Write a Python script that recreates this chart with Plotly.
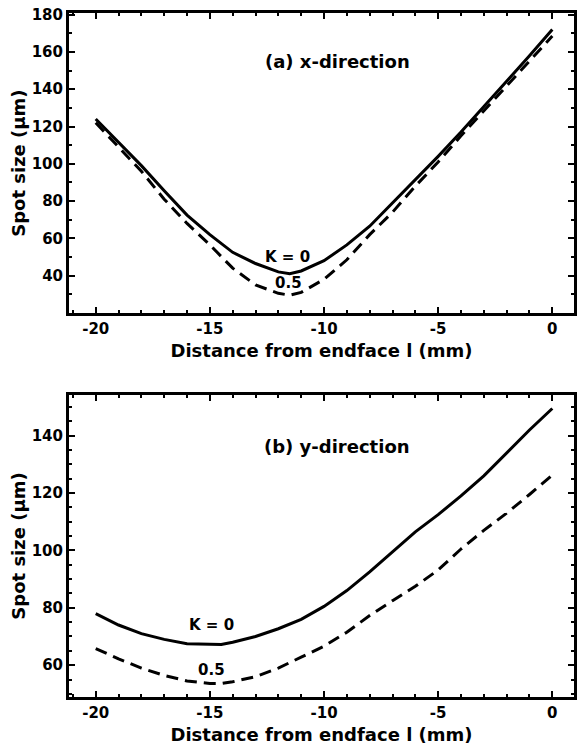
import plotly.graph_objects as go

# ---- data ----
dist = [-20, -19, -18, -17, -16, -15, -14, -13, -12, -11.5, -11, -10, -9, -8, -7, -6, -5, -4, -3, -2, -1, 0]
x_k0 = [124, 111.5, 99, 85.5, 72.5, 62, 52.5, 46.5, 42, 41, 42.5, 48, 56.5, 66.5, 79, 91, 104, 117, 130.5, 144, 158, 172]
x_k05 = [122, 109, 96, 81, 68, 56.5, 44, 35, 30.5, 29.5, 31, 38, 48.5, 62, 74, 88, 101, 115, 128.5, 142, 155.5, 168.5]

dist_b = [-20, -19, -18, -17, -16, -15, -14.5, -14, -13, -12, -11, -10, -9, -8, -7, -6, -5, -4, -3, -2, -1, 0]
y_k0 = [78, 74, 71, 69, 67.5, 67.2, 67.2, 68, 70, 72.7, 76, 80.5, 86, 92.5, 99.5, 106.5, 112.5, 119, 126, 134, 142, 149.5]
y_k05 = [65.8, 62.2, 59, 56.4, 54.5, 53.6, 53.6, 54.2, 56, 59, 62.8, 66.6, 71.5, 77.3, 82.5, 87.5, 93.2, 100.5, 107, 113, 119.5, 126.3]

x_tickvals = [-20, -15, -10, -5, 0]
top_tickvals = [40, 60, 80, 100, 120, 140, 160, 180]
bot_tickvals = [60, 80, 100, 120, 140]

FONT = "DejaVu Sans"

fig = go.Figure()
solid = dict(color="black", width=3)
dashed = dict(color="black", width=3, dash="12px,7px")

fig.add_trace(go.Scatter(x=dist, y=x_k0, mode="lines", line=solid, xaxis="x", yaxis="y", showlegend=False))
fig.add_trace(go.Scatter(x=dist, y=x_k05, mode="lines", line=dashed, xaxis="x", yaxis="y", showlegend=False))
fig.add_trace(go.Scatter(x=dist_b, y=y_k0, mode="lines", line=solid, xaxis="x2", yaxis="y2", showlegend=False))
fig.add_trace(go.Scatter(x=dist_b, y=y_k05, mode="lines", line=dashed, xaxis="x2", yaxis="y2", showlegend=False))

tickfont = dict(family=FONT, size=15, color="black", weight="bold")
titlefont = dict(family=FONT, size=18, color="black", weight="bold")

def xax(anchor):
    return dict(
        anchor=anchor, domain=[0, 1], range=[-21.17, 0.95], automargin=False,
        tickvals=x_tickvals, ticktext=[str(v) for v in x_tickvals],
        ticks="inside", ticklen=6, tickwidth=2, tickcolor="black",
        minor=dict(dtick=1, ticks="inside", ticklen=3, tickwidth=2, tickcolor="black"),
        showline=True, linewidth=3, linecolor="black", mirror="ticks",
        showgrid=False, zeroline=False, tickfont=tickfont, ticklabeloverflow="allow",
        title=dict(text="Distance from endface l (mm)", font=titlefont, standoff=8),
    )

def yax(anchor, domain, rng, tv, minor_dt):
    return dict(
        anchor=anchor, domain=domain, range=rng, automargin=False,
        tickvals=tv, ticktext=[str(v) for v in tv],
        ticks="inside", ticklen=6, tickwidth=2, tickcolor="black",
        minor=dict(dtick=minor_dt, tick0=0, ticks="inside", ticklen=3, tickwidth=2, tickcolor="black"),
        showline=True, linewidth=3, linecolor="black", mirror="ticks",
        showgrid=False, zeroline=False, tickfont=tickfont, ticklabeloverflow="allow",
        title=dict(text="Spot size (\u03bcm)", font=titlefont, standoff=2),
    )

fig.update_layout(
    width=579, height=749,
    margin=dict(l=69, r=5, t=13, b=52, autoexpand=False),
    paper_bgcolor="white", plot_bgcolor="white",
    xaxis=xax("y"),
    yaxis=yax("x", [0.561, 1.0], [19.8, 180.9], top_tickvals, 10),
    xaxis2=xax("y2"),
    yaxis2=yax("x2", [0.0, 0.4415], [48.9, 154.2], bot_tickvals, 5),
)

ann_font_big = dict(family=FONT, size=18, color="black", weight="bold")
ann_font = dict(family=FONT, size=15, color="black", weight="bold")
anns = [
    dict(x=-9.4, y=154.8, xref="x", yref="y", text="(a) x-direction", font=ann_font_big),
    dict(x=-11.6, y=50.2, xref="x", yref="y", text="K = 0", font=ann_font),
    dict(x=-11.55, y=36, xref="x", yref="y", text="0.5", font=ann_font),
    dict(x=-9.43, y=136.2, xref="x2", yref="y2", text="(b) y-direction", font=ann_font_big),
    dict(x=-14.92, y=74, xref="x2", yref="y2", text="K = 0", font=ann_font),
    dict(x=-14.92, y=58.3, xref="x2", yref="y2", text="0.5", font=ann_font),
]
for a in anns:
    a.update(showarrow=False, xanchor="center", yanchor="middle")
fig.update_layout(annotations=anns)

# remove the browser's default 8px body margin so the figure fills the window exactly
fig.write_html(
    "out.html",
    config={"displayModeBar": False},
    post_script="document.body.style.margin='0px';document.body.style.overflow='hidden';",
)
